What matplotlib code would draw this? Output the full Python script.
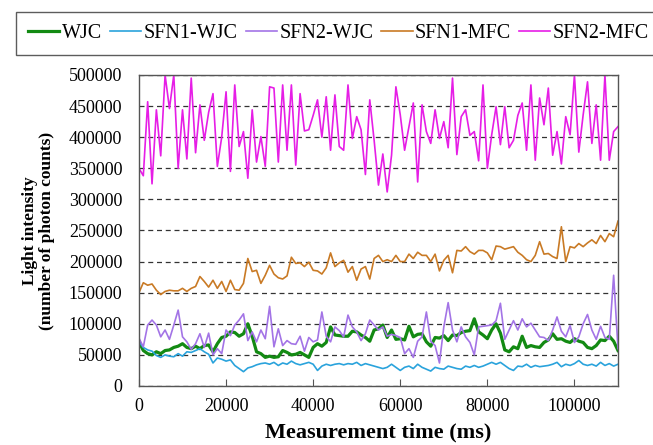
import numpy as np
import matplotlib
matplotlib.use("Agg")
import matplotlib.pyplot as plt

plt.rcParams['font.family'] = ['Liberation Serif', 'DejaVu Serif']

# measurement time, ms (one reading per second)
time_ms = np.arange(0, 111) * 1000

# light intensity, thousands of photon counts
wjc = [71, 57, 52, 50, 55, 52, 57, 58, 62, 64, 68, 62, 60, 64, 60, 65, 66, 55, 68, 78,
       80, 87, 86, 80, 84, 100, 80, 55, 52, 46, 48, 46, 47, 57, 54, 50, 51, 54, 50, 46,
       62, 68, 64, 70, 95, 82, 81, 80, 80, 88, 87, 82, 78, 72, 90, 92, 98, 78, 90, 75,
       76, 74, 96, 79, 83, 84, 71, 64, 78, 77, 81, 73, 82, 81, 86, 88, 89, 108, 87, 82,
       76, 90, 100, 85, 58, 55, 63, 60, 80, 62, 65, 63, 62, 70, 74, 84, 75, 76, 72, 70,
       76, 72, 70, 62, 60, 65, 74, 73, 80, 72, 57]

sfn1_wjc = [71, 62, 58, 56, 49, 46, 50, 48, 47, 52, 48, 55, 54, 57, 60, 55, 51, 37, 45, 43,
            40, 42, 33, 28, 23, 29, 31, 34, 36, 37, 35, 38, 33, 37, 35, 40, 36, 34, 36, 38,
            35, 25, 32, 35, 33, 35, 36, 34, 36, 35, 38, 33, 36, 34, 32, 30, 28, 30, 35, 30,
            25, 30, 32, 28, 35, 30, 27, 24, 30, 28, 27, 32, 30, 28, 27, 32, 30, 33, 30, 32,
            35, 38, 35, 38, 33, 28, 25, 32, 31, 35, 30, 33, 31, 32, 33, 35, 38, 31, 35, 33,
            36, 41, 35, 33, 35, 32, 38, 33, 36, 32, 35]

sfn2_wjc = [77, 63, 98, 106, 98, 79, 90, 75, 98, 122, 79, 71, 59, 68, 84, 62, 85, 50, 60, 52,
            90, 81, 98, 106, 116, 73, 87, 71, 90, 76, 128, 63, 92, 65, 73, 68, 67, 80, 56, 78,
            71, 74, 119, 80, 71, 95, 89, 79, 114, 95, 87, 73, 84, 106, 98, 90, 95, 80, 83, 81,
            78, 52, 60, 46, 72, 79, 119, 72, 65, 37, 95, 134, 90, 71, 95, 79, 70, 50, 95, 96,
            97, 98, 105, 133, 75, 90, 105, 90, 108, 95, 101, 90, 79, 78, 73, 90, 111, 88, 79, 97,
            70, 79, 100, 115, 90, 75, 96, 78, 75, 178, 60]

sfn1_mfc = [150, 166, 162, 164, 154, 147, 152, 154, 153, 153, 157, 152, 157, 160, 176, 168, 159, 170, 157, 168,
            152, 170, 155, 154, 165, 205, 184, 186, 165, 178, 194, 180, 174, 172, 177, 207, 197, 198, 192, 199,
            186, 185, 180, 190, 214, 192, 198, 202, 183, 192, 170, 188, 192, 172, 205, 210, 200, 203, 200, 210,
            200, 200, 212, 205, 215, 210, 210, 200, 212, 185, 202, 210, 182, 218, 217, 224, 216, 212, 218, 218,
            214, 203, 225, 224, 220, 222, 224, 215, 210, 203, 200, 210, 232, 212, 213, 208, 205, 256, 200, 224,
            222, 229, 224, 230, 235, 229, 242, 232, 245, 240, 265]

sfn2_mfc = [350, 338, 457, 325, 444, 370, 500, 446, 500, 350, 444, 365, 495, 375, 452, 395, 440, 470, 353, 400,
            473, 345, 484, 385, 409, 334, 444, 360, 401, 353, 481, 479, 360, 484, 379, 484, 355, 470, 410, 412,
            435, 460, 400, 465, 379, 468, 385, 379, 484, 398, 433, 412, 340, 460, 395, 323, 373, 312, 371, 481,
            436, 379, 417, 455, 328, 452, 409, 390, 444, 398, 425, 383, 495, 372, 433, 444, 403, 409, 362, 484,
            350, 404, 449, 388, 449, 383, 395, 435, 455, 379, 484, 363, 463, 420, 479, 371, 409, 357, 433, 404,
            500, 376, 436, 489, 390, 452, 363, 500, 363, 409, 417]

series = [
    ("WJC", wjc, "#138a13", 2.3),
    ("SFN1-WJC", sfn1_wjc, "#2aa3dc", 1.2),
    ("SFN2-WJC", sfn2_wjc, "#a374e6", 1.2),
    ("SFN1-MFC", sfn1_mfc, "#c97a25", 1.2),
    ("SFN2-MFC", sfn2_mfc, "#e61ee6", 1.2),
]

fig = plt.figure(figsize=(6.53, 4.45), dpi=100)
ax = fig.add_axes([0.2128, 0.1326, 0.7336, 0.6989])

for name, vals, color, lw in series:
    ax.plot(time_ms, np.array(vals) * 1000, color=color, lw=lw, label=name)

ax.set_xlim(0, 110000)
ax.set_ylim(0, 500000)
ax.set_xticks(range(0, 110000, 20000))
ax.set_yticks(range(0, 500001, 50000))
ax.yaxis.grid(True, linestyle=(0, (4, 3)), color="#333333", lw=0.9)
ax.set_axisbelow(True)

for s in ax.spines.values():
    s.set_color("#555555")
    s.set_linewidth(1.0)

ax.tick_params(axis="x", direction="in", length=5, color="#555555", labelsize=13, pad=9)
ax.tick_params(axis="y", direction="in", length=0, labelsize=13, pad=12)

ax.set_xlabel("Measurement time (ms)", fontsize=16, fontweight="bold", labelpad=5)
ax.set_ylabel("Light intensity\n(number of photon counts)", fontsize=12.5,
              fontweight="bold", labelpad=10, linespacing=1.05)

leg = fig.legend(loc="center", bbox_to_anchor=(0.5185, 0.925), ncol=5, fontsize=14.5,
                 frameon=True, fancybox=False, edgecolor="#333333",
                 handlelength=1.55, handletextpad=0.12, columnspacing=0.4,
                 borderpad=0.6, borderaxespad=0)
leg.get_frame().set_linewidth(1.0)

fig.savefig("out.png", dpi=100)
